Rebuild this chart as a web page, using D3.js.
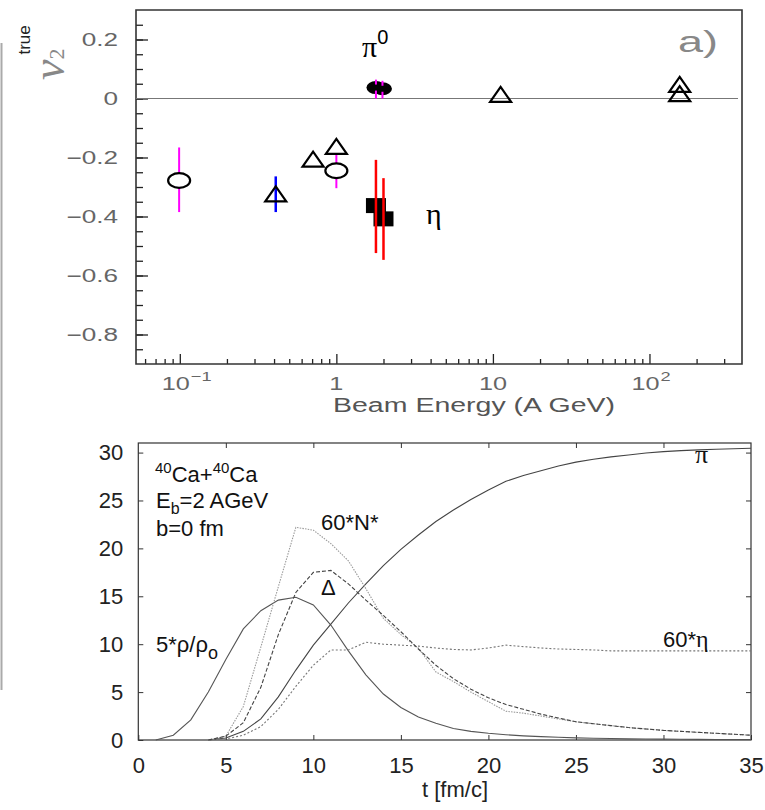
<!DOCTYPE html>
<html>
<head>
<meta charset="utf-8">
<script src="https://cdn.jsdelivr.net/npm/d3@7"></script>
<style>
  body { margin: 0; background: #fff; }
  svg { display: block; }
</style>
</head>
<body>
<svg width="765" height="810"></svg>
<script>
// ---- top panel data: v2 vs beam energy ----
const circleE = [0.099, 1.0];
const circleV = [-0.278, -0.245];
const circleLo = [-0.385, -0.304];
const circleHi = [-0.166, -0.189];

const triE = [0.41, 0.71, 1.0, 11.2, 156, 156];
const triV = [-0.325, -0.207, -0.164, 0.012, 0.046, 0.015];
const triBarE = [0.41];
const triBarLo = [-0.385];
const triBarHi = [-0.264];

const squareE = [1.79, 2.0];
const squareV = [-0.363, -0.408];
const squareLo = [-0.524, -0.547];
const squareHi = [-0.208, -0.27];

const pi0E = [1.79, 1.97];
const pi0V = [0.037, 0.033];
const pi0Lo = [0.0, 0.0];
const pi0Hi = [0.064, 0.06];

const topYTicks = [-0.8, -0.6, -0.4, -0.2, 0, 0.2];
const topYLabels = ["\u22120.8", "\u22120.6", "\u22120.4", "\u22120.2", "0", "0.2"];

// ---- bottom panel data: multiplicities vs time ----
const timeRho = [1,2,3,4,5,6,7,8,9,10,11,12,13,14,15,16,17,18,19,20,21,22,23,24,25,26,27,28,29,30,31,32,33,34,35];
const rho = [0, 0.5, 2.1, 5.0, 8.4, 11.6, 13.5, 14.6, 14.9, 14.1, 12.0, 9.3, 6.8, 4.8, 3.4, 2.4, 1.75, 1.2, 0.9, 0.7,
  0.55, 0.43, 0.35, 0.28, 0.22, 0.18, 0.15, 0.12, 0.1, 0.09, 0.08, 0.07, 0.06, 0.05, 0.05];

const time = [4,5,6,7,8,9,10,11,12,13,14,15,16,17,18,19,20,21,22,23,24,25,26,27,28,29,30,31,32,33,34,35];
const pion = [0, 0.2, 0.9, 2.2, 4.5, 7.3, 9.9, 12.1, 14.3, 16.3, 18.2, 19.9, 21.4, 22.8, 24.0, 25.1, 26.1, 27.0,
  27.6, 28.1, 28.6, 29.0, 29.3, 29.55, 29.75, 29.95, 30.1, 30.2, 30.28, 30.35, 30.4, 30.45];
const nstar = [0, 0.4, 3.5, 9.7, 16.0, 22.2, 21.9, 20.5, 18.7, 15.8, 12.7, 11.0, 9.6, 7.1, 6.1, 5.0, 4.0, 3.0,
  2.8, 2.5, 2.2, 1.9, 1.7, 1.5, 1.3, 1.15, 1.0, 0.9, 0.8, 0.7, 0.6, 0.5];
const delta = [0, 0.4, 1.8, 5.5, 11.0, 15.4, 17.5, 17.7, 16.3, 14.6, 13.0, 11.3, 9.5, 7.8, 6.4, 5.3, 4.4, 3.7,
  3.2, 2.7, 2.3, 1.9, 1.7, 1.5, 1.3, 1.15, 1.0, 0.9, 0.8, 0.7, 0.6, 0.5];
const eta = [0, 0.1, 0.5, 1.4, 3.2, 5.6, 7.8, 9.4, 9.4, 10.2, 10.0, 9.9, 9.8, 9.6, 9.45, 9.4, 9.6, 9.9,
  9.75, 9.6, 9.5, 9.45, 9.4, 9.3, 9.3, 9.3, 9.3, 9.3, 9.3, 9.3, 9.3, 9.3];

const svg = d3.select("svg");

// stray scan edge on the left of the page
svg.append("line").attr("x1", 1.5).attr("x2", 1.5).attr("y1", 43).attr("y2", 690)
  .attr("stroke", "#aaa").attr("stroke-width", 2);

// ================= TOP PANEL =================
const tL = 136, tR = 742, tT = 10, tB = 364;
const xTop = d3.scaleLog().domain([0.0525, 390]).range([tL, tR]);
const yTop = d3.scaleLinear().domain([-0.9, 0.3]).range([tB, tT]);
const grey = "#666";

function stretch(sel, k) {
  sel.each(function () {
    const w = this.getComputedTextLength();
    d3.select(this).attr("textLength", w * k).attr("lengthAdjust", "spacingAndGlyphs");
  });
}

const topG = svg.append("g");

// minor y ticks
const yMinor = d3.range(-0.85, 0.3, 0.05).map(v => +v.toFixed(2));
topG.append("g").attr("transform", `translate(${tL},0)`)
  .call(d3.axisLeft(yTop).tickValues(yMinor).tickSize(-7).tickFormat(""))
  .call(g => g.select(".domain").remove())
  .call(g => g.selectAll("line").attr("stroke", "#222").attr("stroke-width", 1.3));
topG.append("g").attr("transform", `translate(${tL},0)`)
  .call(d3.axisLeft(yTop).tickValues(topYTicks).tickSize(-12).tickPadding(18)
    .tickFormat((d, i) => topYLabels[i]))
  .call(g => g.select(".domain").remove())
  .call(g => g.selectAll("line").attr("stroke", "#222").attr("stroke-width", 1.3))
  .call(g => g.selectAll("text").attr("font-family", "Liberation Sans, Arial, sans-serif")
    .attr("font-size", 18).attr("fill", grey).call(stretch, 1.45));

// x ticks (log)
const xMinor = [];
[0.01, 0.1, 1, 10, 100].forEach(dec => {
  for (let m = 2; m <= 9; m++) {
    const v = dec * m;
    if (v > 0.0525 && v < 390) xMinor.push(v);
  }
});
topG.append("g").attr("transform", `translate(0,${tB})`)
  .call(d3.axisBottom(xTop).tickValues(xMinor).tickSize(-5).tickFormat(""))
  .call(g => g.select(".domain").remove())
  .call(g => g.selectAll("line").attr("stroke", "#222").attr("stroke-width", 1.3));
topG.append("g").attr("transform", `translate(0,${tB})`)
  .call(d3.axisBottom(xTop).tickValues([0.1, 1, 10, 100]).tickSize(-10).tickFormat(""))
  .call(g => g.select(".domain").remove())
  .call(g => g.selectAll("line").attr("stroke", "#222").attr("stroke-width", 1.3));

// x tick labels (10^n)
const xLab = [{v: 0.1, b: "10", e: "\u22121"}, {v: 1, b: "1", e: ""}, {v: 10, b: "10", e: ""}, {v: 100, b: "10", e: "2"}];
xLab.forEach(d => {
  const t = topG.append("text").attr("y", 390).attr("font-family", "Liberation Sans, Arial, sans-serif")
    .attr("font-size", 18).attr("fill", grey).attr("text-anchor", "middle").text(d.b);
  const bw = t.node().getComputedTextLength() * 1.4;
  stretch(t, 1.4);
  const cx = xTop(d.v) - (d.e ? 4 : 0);
  t.attr("x", cx);
  if (d.e) {
    const s = topG.append("text").attr("x", cx + bw / 2 + 1).attr("y", 381)
      .attr("font-family", "Liberation Sans, Arial, sans-serif").attr("font-size", 13)
      .attr("fill", grey).text(d.e);
    stretch(s, 1.4);
  }
});

topG.append("text").attr("x", 333).attr("y", 412).attr("font-family", "Liberation Sans, Arial, sans-serif")
  .attr("font-size", 20).attr("fill", "#555").attr("textLength", 282).attr("lengthAdjust", "spacingAndGlyphs")
  .text("Beam Energy (A GeV)");

// frame
topG.append("path")
  .attr("d", `M${tL},${tT}H${tR}V${tB}H${tL}Z`)
  .attr("fill", "none").attr("stroke", "#333").attr("stroke-width", 1.6);

// zero line
topG.append("line").attr("x1", tL).attr("x2", 738).attr("y1", yTop(0)).attr("y2", yTop(0))
  .attr("stroke", "#777").attr("stroke-width", 1.2);

// y label  v_2^true
const yl = topG.append("text").attr("transform", "translate(64,80) rotate(-90)")
  .attr("font-family", "Liberation Serif, serif");
yl.append("tspan").attr("font-size", 46).attr("font-style", "italic").attr("fill", "#888").text("\u03bd");
yl.append("tspan").attr("font-size", 22).attr("fill", "#888").attr("dy", 0).text("2");
yl.append("tspan").attr("font-size", 17).attr("fill", "#222").attr("dy", -34)
  .attr("font-family", "Liberation Sans, Arial, sans-serif").attr("dx", -6).text("true");

// "a)"
topG.append("text").attr("x", 678).attr("y", 52).attr("font-family", "Liberation Sans, Arial, sans-serif")
  .attr("font-size", 30).attr("fill", "#888").attr("textLength", 40).attr("lengthAdjust", "spacingAndGlyphs")
  .text("a)");

// labels pi0 and eta
const p0 = topG.append("text").attr("x", 362).attr("y", 57).attr("font-family", "Liberation Serif, serif")
  .attr("font-size", 30).attr("fill", "#000");
p0.append("tspan").text("\u03c0");
p0.append("tspan").attr("font-size", 20).attr("dy", -13).attr("font-family", "Liberation Sans, Arial, sans-serif").text("0");
topG.append("text").attr("x", 426).attr("y", 224).attr("font-family", "Liberation Serif, serif")
  .attr("font-size", 30).attr("fill", "#000").text("\u03b7");

// error bars under open markers
function bars(E, Lo, Hi, color, w) {
  E.forEach((e, i) => {
    topG.append("line").attr("x1", xTop(e)).attr("x2", xTop(e))
      .attr("y1", yTop(Lo[i])).attr("y2", yTop(Hi[i]))
      .attr("stroke", color).attr("stroke-width", w);
  });
}
bars(circleE, circleLo, circleHi, "#f0f", 2);
bars(triBarE, triBarLo, triBarHi, "#00f", 2.5);

// open circles (drawn wide like the original)
circleE.forEach((e, i) => {
  topG.append("ellipse").attr("cx", xTop(e)).attr("cy", yTop(circleV[i])).attr("rx", 11).attr("ry", 7.3)
    .attr("fill", "#fff").attr("stroke", "#000").attr("stroke-width", 2.2);
});

// open triangles
triE.forEach((e, i) => {
  const cx = xTop(e), cy = yTop(triV[i]);
  topG.append("path").attr("d", `M${cx - 10.5},${cy + 7}L${cx + 10.5},${cy + 7}L${cx},${cy - 8}Z`)
    .attr("fill", "none").attr("stroke", "#000").attr("stroke-width", 2.2);
});

// filled squares (eta)
squareE.forEach((e, i) => {
  topG.append("rect").attr("x", xTop(e) - 10).attr("y", yTop(squareV[i]) - 7.5)
    .attr("width", 20).attr("height", 15).attr("fill", "#000");
});
bars(squareE, squareLo, squareHi, "#f00", 2.5);

// filled ellipses (pi0)
pi0E.forEach((e, i) => {
  topG.append("ellipse").attr("cx", xTop(e)).attr("cy", yTop(pi0V[i])).attr("rx", 9.5).attr("ry", 6.5)
    .attr("fill", "#000");
});
pi0E.forEach((e, i) => {
  const cy = yTop(pi0V[i]);
  topG.append("line").attr("x1", xTop(e)).attr("x2", xTop(e)).attr("y1", yTop(pi0Hi[i])).attr("y2", cy - 3)
    .attr("stroke", "#f0f").attr("stroke-width", 2);
  topG.append("line").attr("x1", xTop(e)).attr("x2", xTop(e)).attr("y1", cy + 3).attr("y2", yTop(pi0Lo[i]))
    .attr("stroke", "#f0f").attr("stroke-width", 2);
});

// ================= BOTTOM PANEL =================
const bL = 138.3, bR = 751, bT = 443, bB = 740;
const xB = d3.scaleLinear().domain([0, 35]).range([bL, bR]);
const yB = d3.scaleLinear().domain([0, 31]).range([bB, bT]);
const font = "Liberation Sans, Arial, sans-serif";
const bot = svg.append("g");

bot.append("g").attr("transform", `translate(0,${bB})`)
  .call(d3.axisBottom(xB).tickValues(d3.range(0, 36, 5)).tickSizeInner(-5).tickSizeOuter(0).tickPadding(17))
  .call(g => g.select(".domain").remove())
  .call(g => g.selectAll("line").attr("stroke", "#333"))
  .call(g => g.selectAll("text").attr("font-family", font).attr("font-size", 22).attr("fill", "#222"));
bot.append("g").attr("transform", `translate(0,${bT})`)
  .call(d3.axisTop(xB).tickValues(d3.range(5, 35, 5)).tickSizeInner(-5).tickSizeOuter(0).tickFormat(""))
  .call(g => g.select(".domain").remove())
  .call(g => g.selectAll("line").attr("stroke", "#333"));
bot.append("g").attr("transform", `translate(${bL},0)`)
  .call(d3.axisLeft(yB).tickValues(d3.range(0, 31, 5)).tickSizeInner(-5).tickSizeOuter(0).tickPadding(15))
  .call(g => g.select(".domain").remove())
  .call(g => g.selectAll("line").attr("stroke", "#333"))
  .call(g => g.selectAll("text").attr("font-family", font).attr("font-size", 22).attr("fill", "#222"));
bot.append("g").attr("transform", `translate(${bR},0)`)
  .call(d3.axisRight(yB).tickValues(d3.range(5, 31, 5)).tickSizeInner(-5).tickSizeOuter(0).tickFormat(""))
  .call(g => g.select(".domain").remove())
  .call(g => g.selectAll("line").attr("stroke", "#333"));

bot.append("rect").attr("x", bL).attr("y", bT).attr("width", bR - bL).attr("height", bB - bT)
  .attr("fill", "none").attr("stroke", "#333").attr("stroke-width", 1.2);

bot.append("text").attr("x", 455).attr("y", 797).attr("text-anchor", "middle")
  .attr("font-family", font).attr("font-size", 22).attr("fill", "#222").text("t [fm/c]");

// curves
const line = d3.line().x(d => xB(d[0])).y(d => yB(d[1]));
const curves = [
  {t: timeRho, v: rho, c: "#555", dash: null},
  {t: time, v: pion, c: "#444", dash: null},
  {t: time, v: eta, c: "#777", dash: "2,2"},
  {t: time, v: nstar, c: "#9a9a9a", dash: "1.5,1.2"},
  {t: time, v: delta, c: "#444", dash: "4,2"}
];
curves.forEach(cv => {
  bot.append("path").datum(cv.t.map((t, i) => [t, cv.v[i]]))
    .attr("d", line).attr("fill", "none").attr("stroke", cv.c).attr("stroke-width", 1.1)
    .attr("stroke-dasharray", cv.dash);
});

// annotations
function label(x, y, parts, size) {
  const t = bot.append("text").attr("x", x).attr("y", y).attr("font-family", font)
    .attr("font-size", size || 22).attr("fill", "#111");
  parts.forEach(p => {
    const s = t.append("tspan").text(p.s);
    if (p.fs) s.attr("font-size", p.fs);
    if (p.dy) s.attr("dy", p.dy);
    if (p.ff) s.attr("font-family", p.ff);
  });
  return t;
}
label(155, 482, [{s: "40", fs: 15, dy: -9}, {s: "Ca+", dy: 9}, {s: "40", fs: 15, dy: -9}, {s: "Ca", dy: 9}]);
label(156, 508, [{s: "E"}, {s: "b", fs: 16, dy: 6}, {s: "=2 AGeV", dy: -6}]);
label(156, 536, [{s: "b=0 fm"}]);
label(321, 530, [{s: "60*N*"}]);
label(321, 595, [{s: "\u0394"}]);
label(156, 652, [{s: "5*\u03c1/\u03c1"}, {s: "o", fs: 18, dy: 7}]);
label(695, 463, [{s: "\u03c0", ff: "Liberation Serif, serif"}], 26);
label(663, 647, [{s: "60*"}, {s: "\u03b7", ff: "Liberation Serif, serif", fs: 24}]);
</script>
</body>
</html>
